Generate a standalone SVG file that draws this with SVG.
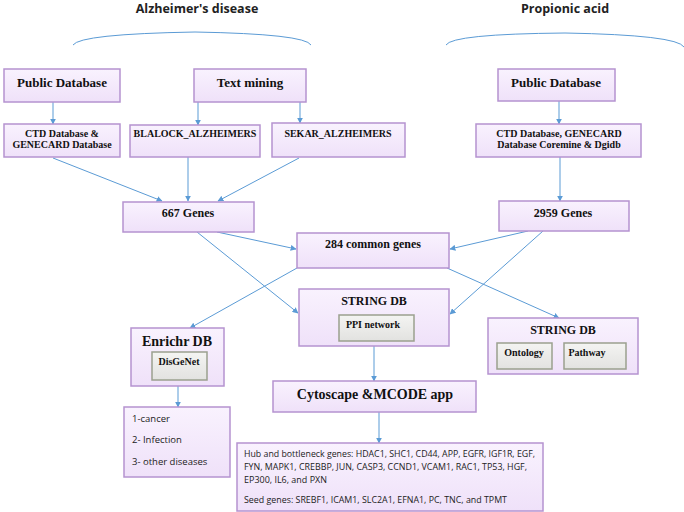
<svg xmlns="http://www.w3.org/2000/svg" width="684" height="512" viewBox="0 0 684 512">
<defs>
<linearGradient id="gb" x1="0" y1="0" x2="0" y2="1">
<stop offset="0" stop-color="#f9f2fe"/>
<stop offset="1" stop-color="#efe1f9"/>
</linearGradient>
<linearGradient id="gi" x1="0" y1="0" x2="0" y2="1">
<stop offset="0" stop-color="#f4f4f2"/>
<stop offset="1" stop-color="#e2e2e0"/>
</linearGradient>
<marker id="ah" viewBox="0 0 10 10" refX="9" refY="5" markerWidth="6" markerHeight="6" orient="auto" markerUnits="userSpaceOnUse">
<path d="M0,0 L10,5 L0,10 z" fill="#5b9bd5"/>
</marker>
</defs>
<style>
.box{fill:url(#gb);stroke:#b593d0;stroke-width:1.5}
.in{fill:url(#gi);stroke:#9aa08e;stroke-width:1.5}
.t{font-family:"Liberation Serif",serif;font-weight:bold;fill:#111;text-anchor:middle}
.s{font-family:"Open Sans","Liberation Sans",sans-serif;fill:#222}
.h{font-family:"Open Sans","Liberation Sans",sans-serif;font-weight:bold;fill:#222;text-anchor:middle;font-size:12.5px}
.c{fill:none;stroke:#5b9bd5;stroke-width:1;marker-end:url(#ah)}
.br{fill:none;stroke:#5b9bd5;stroke-width:1}
</style>
<rect width="684" height="512" fill="#fff"/>
<g id="titles">
<text class="h" x="197" y="13">Alzheimer's disease</text>
<text class="h" x="565" y="13">Propionic acid</text>
<path class="br" d="M73,45 Q80,34 195,32 Q305,34 311,45"/>
<path class="br" d="M446,45 Q452,34 565,33 Q677,35 684,47"/>
</g>
<g id="connectors">
<line class="c" x1="53" y1="102" x2="53" y2="124"/>
<line class="c" x1="198" y1="102" x2="198" y2="125"/>
<line class="c" x1="300" y1="102" x2="300" y2="123"/>
<line class="c" x1="53" y1="158" x2="162" y2="201"/>
<line class="c" x1="188" y1="157" x2="188" y2="201"/>
<line class="c" x1="299" y1="158" x2="218" y2="201"/>
<line class="c" x1="217" y1="232" x2="296" y2="249"/>
<line class="c" x1="197" y1="232" x2="298" y2="313"/>
<line class="c" x1="297" y1="268" x2="190" y2="328"/>
<line class="c" x1="447" y1="268" x2="559" y2="318"/>
<line class="c" x1="528" y1="231" x2="450" y2="249"/>
<line class="c" x1="543" y1="231" x2="450" y2="314"/>
<line class="c" x1="559" y1="101" x2="559" y2="124"/>
<line class="c" x1="560" y1="157" x2="560" y2="201"/>
<line class="c" x1="374" y1="346" x2="374" y2="381"/>
<line class="c" x1="178" y1="386" x2="178" y2="407"/>
<line class="c" x1="379" y1="412" x2="379" y2="443"/>
</g>
<g id="pubL">
<rect class="box" x="4" y="69" width="116" height="33"/>
<text class="t" x="62" y="87" font-size="13">Public Database</text>
</g>
<g id="textmining">
<rect class="box" x="194" y="69" width="112" height="33"/>
<text class="t" x="250" y="87" font-size="13">Text mining</text>
</g>
<g id="ctdL">
<rect class="box" x="4" y="124" width="116" height="33"/>
<text class="t" x="62" y="137" font-size="10">CTD Database &amp;</text>
<text class="t" x="62" y="148" font-size="10">GENECARD Database</text>
</g>
<g id="blalock">
<rect class="box" x="130" y="125" width="130" height="32"/>
<text class="t" x="195" y="137" font-size="10">BLALOCK_ALZHEIMERS</text>
</g>
<g id="sekar">
<rect class="box" x="272" y="123" width="133" height="34"/>
<text class="t" x="338" y="137" font-size="10">SEKAR_ALZHEIMERS</text>
</g>
<g id="pubR">
<rect class="box" x="498" y="69" width="117" height="32"/>
<text class="t" x="556" y="87" font-size="13">Public Database</text>
</g>
<g id="ctdR">
<rect class="box" x="476" y="124" width="165" height="33"/>
<text class="t" x="559" y="137" font-size="10">CTD Database, GENECARD</text>
<text class="t" x="559" y="148" font-size="10">Database Coremine &amp; Dgidb</text>
</g>
<g id="g667">
<rect class="box" x="123" y="202" width="131" height="30"/>
<text class="t" x="188" y="217" font-size="12">667 Genes</text>
</g>
<g id="g2959">
<rect class="box" x="499" y="201" width="130" height="30"/>
<text class="t" x="563" y="217" font-size="12">2959 Genes</text>
</g>
<g id="common">
<rect class="box" x="297" y="233" width="152" height="35"/>
<text class="t" x="373" y="248" font-size="12">284 common genes</text>
</g>
<g id="stringC">
<rect class="box" x="299" y="289" width="150" height="57"/>
<text class="t" x="374" y="305" font-size="12">STRING DB</text>
<rect class="in" x="339" y="315" width="75" height="26"/>
<text class="t" x="373" y="328" font-size="10">PPI network</text>
</g>
<g id="stringR">
<rect class="box" x="488" y="318" width="150" height="56"/>
<text class="t" x="563" y="334" font-size="12">STRING DB</text>
<rect class="in" x="497" y="343" width="55" height="26"/>
<text class="t" x="524" y="356" font-size="10">Ontology</text>
<rect class="in" x="564" y="343" width="62" height="26"/>
<text class="t" x="587" y="356" font-size="10">Pathway</text>
</g>
<g id="enrichr">
<rect class="box" x="131" y="328" width="93" height="58"/>
<text class="t" x="177" y="346" font-size="14">Enrichr DB</text>
<rect class="in" x="152" y="352" width="55" height="28"/>
<text class="t" x="179" y="365" font-size="10">DisGeNet</text>
</g>
<g id="cytoscape">
<rect class="box" x="273" y="381" width="203" height="31"/>
<text class="t" x="375" y="399" font-size="14">Cytoscape &amp;MCODE app</text>
</g>
<g id="diseases">
<rect class="box" x="124" y="407" width="106" height="70"/>
<text class="s" x="132" y="422" font-size="9.5">1-cancer</text>
<text class="s" x="132" y="443" font-size="9.5">2- Infection</text>
<text class="s" x="132" y="465" font-size="9.5">3- other diseases</text>
</g>
<g id="hub">
<rect class="box" x="237" y="443" width="306" height="68"/>
<text class="s" x="244" y="457" font-size="9.5" textLength="291" lengthAdjust="spacingAndGlyphs">Hub and bottleneck genes: HDAC1, SHC1, CD44, APP, EGFR, IGF1R, EGF,</text>
<text class="s" x="244" y="470" font-size="9.5" textLength="283" lengthAdjust="spacingAndGlyphs">FYN, MAPK1, CREBBP, JUN, CASP3, CCND1, VCAM1, RAC1, TP53, HGF,</text>
<text class="s" x="244" y="483" font-size="9.5" textLength="83" lengthAdjust="spacingAndGlyphs">EP300, IL6, and PXN</text>
<text class="s" x="244" y="503" font-size="9.5" textLength="263" lengthAdjust="spacingAndGlyphs">Seed genes: SREBF1, ICAM1, SLC2A1, EFNA1, PC, TNC, and TPMT</text>
</g>
</svg>
